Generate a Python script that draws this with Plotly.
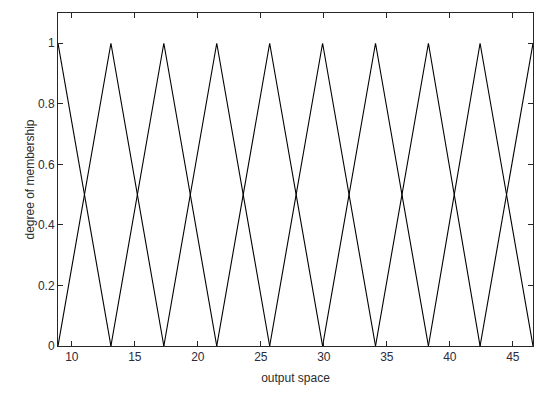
import plotly.graph_objects as go

# centers of the triangular membership functions (output space)
centers = [8.9, 13.1, 17.3, 21.5, 25.7, 29.9, 34.1, 38.3, 42.4, 46.6]
x_ticks = [10, 15, 20, 25, 30, 35, 40, 45]
y_ticks = [0, 0.2, 0.4, 0.6, 0.8, 1]

fig = go.Figure()

# build each triangle from neighbouring centers
for i, c in enumerate(centers):
    xs, ys = [], []
    if i > 0:
        xs.append(centers[i - 1])
        ys.append(0)
    xs.append(c)
    ys.append(1)
    if i < len(centers) - 1:
        xs.append(centers[i + 1])
        ys.append(0)
    fig.add_trace(go.Scatter(
        x=xs, y=ys, mode="lines",
        line=dict(color="black", width=1.1),
        hoverinfo="skip", showlegend=False
    ))

axis_style = dict(
    showline=True, linecolor="#262626", linewidth=1,
    mirror="ticks", ticks="inside", ticklen=5, tickcolor="#262626",
    showgrid=False, zeroline=False,
    tickfont=dict(family="Liberation Sans, Arial", size=12, color="#2b2b3b"),
)

fig.update_xaxes(range=[8.9, 46.6], tickvals=x_ticks,
                 title=dict(text="output space", standoff=10,
                            font=dict(family="Liberation Sans, Arial", size=12, color="#2b2b2b")),
                 **axis_style)
fig.update_yaxes(range=[0, 1.1], tickvals=y_ticks, ticktext=["0", "0.2", "0.4", "0.6", "0.8", "1"],
                 title=dict(text="degree of membership", standoff=0,
                            font=dict(family="Liberation Sans, Arial", size=12, color="#2b2b2b")),
                 **axis_style)

# page body has an 8px margin, so the figure is shrunk by that much
fig.update_layout(
    width=542, height=386,
    margin=dict(l=50, r=17, t=5, b=48),
    plot_bgcolor="white", paper_bgcolor="white",
)

fig.write_html("out.html")
